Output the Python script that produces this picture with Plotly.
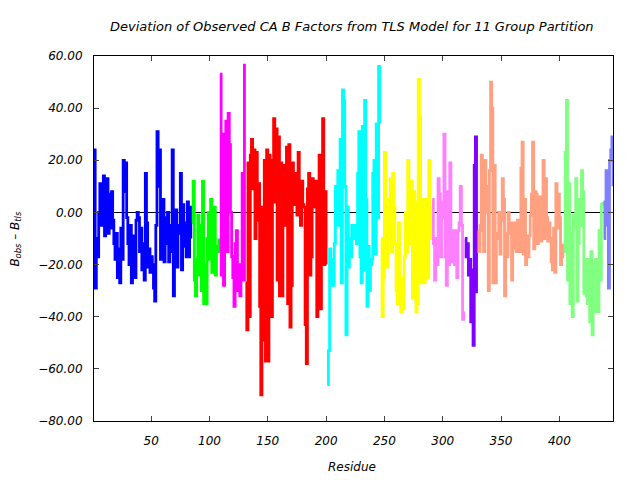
import plotly.graph_objects as go

# Group start residues and values (B_obs - B_tls) per residue
group_names = ["Group 1", "Group 2", "Group 3", "Group 4", "Group 5", "Group 6",
               "Group 7", "Group 8", "Group 9", "Group 10", "Group 11"]
group_colors = ["#0000ff", "#00ff00", "#ff00ff", "#ff0000", "#00ffff", "#ffff00",
                "#ff80ff", "#8000ff", "#ffa080", "#80ff80", "#8080ff"]
group_starts = [1, 85, 109, 131, 201, 247, 291, 319, 330, 404, 438]

g1 = [24, -29, -10, -17, 0, 11, -5, 3, 14, -9, 6, 13, -8, 7, -6, 8, -3, -12, -18, -8,
      -25, -14, -27, -6, -18, 20, 8, 19, -2, -12, -20, -5, -27, -14, -9, -25, -3, 0, -2, -15,
      -6, -22, -12, -26, 15, -4, -21, -14, -23, -17, -20, -29, -34, -5, 31, 10, 24, -18, -6, 5,
      -19, -2, -12, 0, -19, -5, -15, 24, -32, -10, 1, -21, -8, -5, 15, -22, 3, -13, -4, -17,
      4, -17, 2, -10]
g2 = [-4, 12, -26, -32, -18, -1, -24, -5, -30, 12, -35, -20, -35, -10, 0, -18, 5, -23, -4, 2,
      -24, -13, -15, -10]
g3 = [53, -24, 30, -28, 30, 35, -15, 38, 26, 0, -17, -25, -36, -12, -7, -30, -20, -32, -25, 15,
      -26, 57]
g4 = [-27, -45, 19, -40, 22, 28, 9, 24, -10, 23, -3, 11, -36, -70, 2, -49, 20, -57, 24,
      -57, 22, -21, -40, 20, 36, 4, 32, -26, 29, -32, 19, -32, 10, 18, -5, 25, -35, 26, -44,
      -28, 19, 7, 3, 15, -1, 23, 10, -5, 12, 3, 2, -43, -58, 9, 15, -24, -17, 13, 3,
      2, 12, -40, -20, 22, -37, 8, 36, -20, 8, -20]
g5 = [-66, -53, -14, -28, -18, -28, -12, 10, -5, 16, -5, 28, -27, 47, 43, 10, -47, 2, -21, -10,
      -17, -5, -10, -8, -5, -12, 15, 31, -17, -27, 33, -22, 43, 5, -36, -13, -30, -20, -18, 15,
      20, -16, 34, -2, 56, 34]
g6 = [-10, -40, -25, 23, 2, -21, -8, 5, 13, -15, 15, 2, -12, -30, -35, -4, -35, -38, -25, -37,
      -17, 0, -15, 20, -12, 8, 12, -33, 8, 4, -38, -35, 51, 37, -27, 5, -23, -27, 5, 3,
      -25, 20, -10, 2]
g7 = [5, -12, -26, -10, -20, 13, 7, -17, 4, -2, 30, -17, -28, 8, -20, 19, -19, -8, -7, -20,
      -7, -25, -7, -4, 10, -5, -41, -38]
g8 = [-10, -17, -12, -24, -18, -42, -22, -51, 18, 29, -31]
g9 = [-7, -15, -5, 22, -7, -15, 20, 0, 10, -30, 16, 50, 40, -27, 18, -27, -8, -10, 0, -16,
      -3, 13, 5, -32, -8, -17, 0, -8, -4, -26, -14, -4, -4, -15, -3, -14, -15, 17, 27, -16,
      5, -20, -9, -17, -9, -1, 7, 27, -14, 8, 7, -12, 3, 6, -11, -8, 20, -10, 13, -2,
      -11, -4, -10, -19, -22, -6, -23, 11, -6, 7, -2, -20, -17, -12]
g10 = [-15, 23, 43, -26, 11, -35, -8, -40, -1, -6, 13, -34, -12, 5, -5, 16, 8, -31, -18, -32,
       -35, -18, -42, -15, -47, -20, -38, -18, -18, -38, -7, -26, 3, 4]
g11 = [-10, 4, 16, -5, -29, 20, 24, 29, 10]

group_values = [g1, g2, g3, g4, g5, g6, g7, g8, g9, g10, g11]

y_ticks = [-80, -60, -40, -20, 0, 20, 40, 60]
x_ticks = [50, 100, 150, 200, 250, 300, 350, 400]

fig = go.Figure()
for name, color, start, vals in zip(group_names, group_colors, group_starts, group_values):
    xs = list(range(start, start + len(vals)))
    fig.add_trace(go.Scatter(x=xs, y=vals, mode="lines", name=name,
                             line=dict(color=color, width=2.8, shape="hv"), showlegend=False))

font_family = "DejaVu Sans"
fig.update_layout(
    width=632, height=472,
    paper_bgcolor="white", plot_bgcolor="white",
    margin=dict(l=86, r=27, t=48, b=59),
    title=dict(text="Deviation of Observed CA B Factors from TLS Model for 11 Group Partition",
               x=0.544, xanchor="center", y=0.96, yanchor="middle",
               font=dict(family=font_family, size=13, color="black", style="italic")),
    font=dict(family=font_family, size=12, color="black"),
)
fig.update_xaxes(range=[1, 446], tickvals=x_ticks, ticks="inside", ticklen=5,
                 showline=True, linecolor="black", linewidth=1, mirror="ticks",
                 showgrid=False, zeroline=False, ticklabelstandoff=9, automargin=False,
                 tickfont=dict(family=font_family, size=12, style="italic"))
fig.update_yaxes(range=[-80, 60], tickvals=y_ticks, tickformat=".2f", ticks="inside", ticklen=5,
                 showline=True, linecolor="black", linewidth=1, mirror="ticks",
                 showgrid=False, zeroline=True, zerolinecolor="black", zerolinewidth=1,
                 ticklabelstandoff=8, automargin=False,
                 tickfont=dict(family=font_family, size=12, style="italic"))

fig.add_annotation(text="Residue", xref="paper", yref="paper", x=0.497, y=-0.126,
                   xanchor="center", yanchor="middle", showarrow=False,
                   font=dict(family=font_family, size=12, color="black", style="italic"))
fig.add_annotation(text="B<sub>obs</sub> \u2013 B<sub>tls</sub>", xref="paper", yref="paper",
                   x=-0.152, y=0.5, xanchor="center", yanchor="middle", textangle=-90,
                   showarrow=False,
                   font=dict(family=font_family, size=12, color="black", style="italic"))

fig.write_html("out.html")
